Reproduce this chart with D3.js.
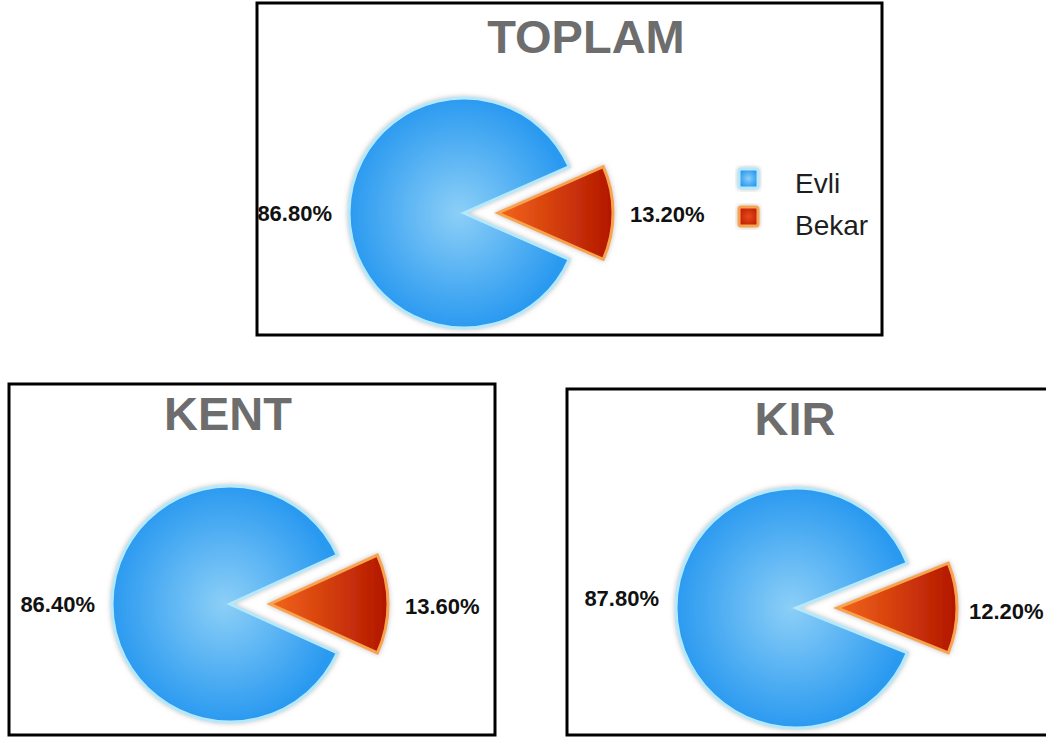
<!DOCTYPE html>
<html>
<head>
    <meta charset="utf-8">
    <title>Medeni Durum</title>
    <style>
        body { margin: 0; background: #fff; }
        text { font-family: "Liberation Sans", Arial, sans-serif; }
        .title { font-weight: bold; fill: #6d6d6d; }
        .pct { font-weight: bold; fill: #111; }
        .legend-label { fill: #1e1e1e; }
    </style>
    <script src="https://d3js.org/d3.v7.min.js"></script>
</head>
<body>
<script>
    // data
    var categories = ["Evli", "Bekar"];
    var panelNames = ["TOPLAM", "KENT", "KIR"];
    var toplamValues = [86.8, 13.2];
    var kentValues = [86.4, 13.6];
    var kirValues = [87.8, 12.2];
    var valueLabels = [["86.80%", "13.20%"], ["86.40%", "13.60%"], ["87.80%", "12.20%"]];

    // layout of each box (not data)
    var panels = [
        { name: panelNames[0], values: toplamValues, labels: valueLabels[0], box: [257, 3, 625, 332], cx: 464, cy: 213, r: 115, explode: 34, titleX: 586, titleY: 53, lDy: 0, rDy: 1, rGap: 17, legend: true },
        { name: panelNames[1], values: kentValues, labels: valueLabels[1], box: [9, 384, 486, 351], cx: 230, cy: 604, r: 118, explode: 40, titleX: 228, titleY: 430, lDy: 0, rDy: 2, rGap: 17, legend: false },
        { name: panelNames[2], values: kirValues, labels: valueLabels[2], box: [567, 389, 482, 346], cx: 796, cy: 608, r: 120, explode: 41, titleX: 795, titleY: 435, lDy: -10, rDy: 3, rGap: 12, legend: false }
    ];

    var W = 1046, H = 738;
    var svg = d3.select("body").append("svg")
        .attr("width", W)
        .attr("height", H);

    var defs = svg.append("defs");

    // soft grey halo round every shape
    var glow = defs.append("filter")
        .attr("id", "glow")
        .attr("x", "-20%").attr("y", "-20%")
        .attr("width", "140%").attr("height", "140%");
    glow.append("feGaussianBlur").attr("in", "SourceAlpha").attr("stdDeviation", 2.5).attr("result", "blur");
    glow.append("feFlood").attr("flood-color", "#8a8a8a").attr("flood-opacity", 0.55);
    glow.append("feComposite").attr("in2", "blur").attr("operator", "in").attr("result", "shadow");
    var merge = glow.append("feMerge");
    merge.append("feMergeNode").attr("in", "shadow");
    merge.append("feMergeNode").attr("in", "SourceGraphic");

    var blueGrad = defs.append("radialGradient")
        .attr("id", "blueGrad")
        .attr("cx", "50%").attr("cy", "50%").attr("r", "50%");
    blueGrad.append("stop").attr("offset", "0%").attr("stop-color", "#8ccff7");
    blueGrad.append("stop").attr("offset", "100%").attr("stop-color", "#2b9af0");

    var redGrad = defs.append("linearGradient")
        .attr("id", "redGrad")
        .attr("x1", "0%").attr("y1", "0%").attr("x2", "100%").attr("y2", "0%");
    redGrad.append("stop").attr("offset", "0%").attr("stop-color", "#f4661a");
    redGrad.append("stop").attr("offset", "100%").attr("stop-color", "#b21600");

    var legRed = defs.append("radialGradient").attr("id", "legRed");
    legRed.append("stop").attr("offset", "0%").attr("stop-color", "#e8481a");
    legRed.append("stop").attr("offset", "100%").attr("stop-color", "#c02408");

    var color = d3.scaleOrdinal().domain(categories).range(["url(#blueGrad)", "url(#redGrad)"]);
    var strokeColor = d3.scaleOrdinal().domain(categories).range(["#b6e8fb", "#f8a34f"]);

    panels.forEach(function(p) {
        var g = svg.append("g");

        g.append("rect")
            .attr("x", p.box[0]).attr("y", p.box[1])
            .attr("width", p.box[2]).attr("height", p.box[3])
            .attr("fill", "#fff")
            .attr("stroke", "#000")
            .attr("stroke-width", 3);

        g.append("text")
            .attr("class", "title")
            .attr("x", p.titleX).attr("y", p.titleY)
            .attr("text-anchor", "middle")
            .style("font-size", "47px")
            .text(p.name);

        var total = d3.sum(p.values);
        // turn the pie so the small slice points to the right
        var a0 = Math.PI / 2 - (p.values[0] + p.values[1] / 2) / total * 2 * Math.PI;
        var pie = d3.pie().sort(null).startAngle(a0).endAngle(a0 + 2 * Math.PI);
        var arcs = pie(p.values);
        var arc = d3.arc().innerRadius(0).outerRadius(p.r);

        var pieG = g.append("g").attr("transform", "translate(" + p.cx + "," + p.cy + ")");

        pieG.selectAll("path")
            .data(arcs)
            .enter().append("path")
            .attr("d", arc)
            .attr("transform", function(d, i) {
                if (i === 0) return null;
                var mid = (d.startAngle + d.endAngle) / 2;
                return "translate(" + (Math.sin(mid) * p.explode) + "," + (-Math.cos(mid) * p.explode) + ")";
            })
            .attr("fill", function(d, i) { return color(categories[i]); })
            .attr("stroke", function(d, i) { return strokeColor(categories[i]); })
            .attr("stroke-width", 3)
            .attr("stroke-linejoin", "miter")
            .attr("filter", "url(#glow)");

        // percentage labels either side of the pie
        g.append("text")
            .attr("class", "pct")
            .attr("x", p.cx - p.r - 17)
            .attr("y", p.cy + p.lDy)
            .attr("dy", "0.35em")
            .attr("text-anchor", "end")
            .style("font-size", "22px")
            .text(p.labels[0]);

        g.append("text")
            .attr("class", "pct")
            .attr("x", p.cx + p.explode + p.r + p.rGap)
            .attr("y", p.cy + p.rDy)
            .attr("dy", "0.35em")
            .attr("text-anchor", "start")
            .style("font-size", "22px")
            .text(p.labels[1]);

        if (p.legend) {
            var leg = g.append("g").attr("transform", "translate(739,169)");
            var item = leg.selectAll("g")
                .data(categories)
                .enter().append("g");
            item.append("rect")
                .attr("y", function(d, i) { return i * 38; })
                .attr("width", 19).attr("height", 19)
                .attr("rx", 2)
                .attr("fill", function(d, i) { return i === 0 ? "url(#blueGrad)" : "url(#legRed)"; })
                .attr("stroke", function(d) { return strokeColor(d); })
                .attr("stroke-width", 3)
                .attr("filter", "url(#glow)");
            item.append("text")
                .attr("class", "legend-label")
                .attr("x", 56)
                .attr("y", function(d, i) { return 14 + i * 42; })
                .attr("dy", "0.35em")
                .style("font-size", "28px")
                .text(function(d) { return d; });
        }
    });
</script>
</body>
</html>
